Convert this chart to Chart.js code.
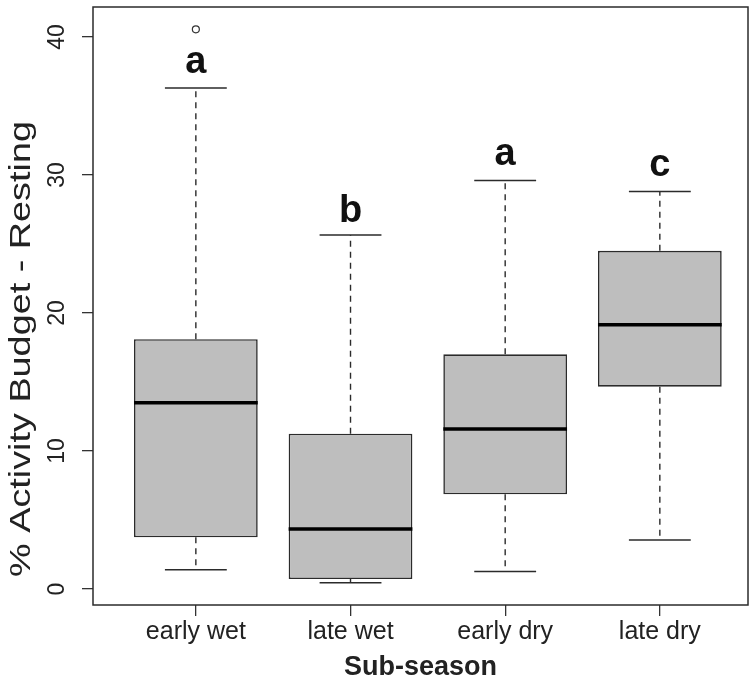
<!DOCTYPE html>
<html>
<head>
<meta charset="utf-8">
<script src="https://cdn.jsdelivr.net/npm/chart.js@4.4.1/dist/chart.umd.min.js"></script>
<style>
    html, body { margin: 0; padding: 0; background: #fff; }
</style>
</head>
<body>
<canvas id="myChart" width="755" height="687"></canvas>
<script>
// box plot summary
const categories = ['early wet', 'late wet', 'early dry', 'late dry'];
const whiskerLow = [1.4, 0.46, 1.26, 3.55];
const quartile1 = [3.75, 0.72, 6.86, 14.66];
const medians = [13.5, 4.35, 11.6, 19.15];
const quartile3 = [18.1, 11.25, 17.0, 24.5];
const whiskerHigh = [36.3, 25.65, 29.6, 28.8];
const outliers = [{ x: 1, y: 40.55 }];

// significance letters and the value their baseline sits on
const groupLetters = ['a', 'b', 'a', 'c'];
const letterBaseline = [37.4, 26.6, 30.7, 29.9];

const yTitle = '% Activity Budget - Resting';

const FONT = "'Liberation Sans', Arial, sans-serif";
const INK = '#2b2b2b';

const boxPlotLines = {
    id: 'boxPlotLines',
    beforeDatasetsDraw(chart) {
        const ctx = chart.ctx;
        const x = chart.scales.x, y = chart.scales.y;
        ctx.save();
        ctx.strokeStyle = INK;
        ctx.lineWidth = 1.4;
        ctx.setLineDash([6, 5]);
        for (let i = 0; i < categories.length; i++) {
            let px = x.getPixelForValue(i + 1);
            ctx.beginPath();
            ctx.moveTo(px, y.getPixelForValue(quartile3[i]));
            ctx.lineTo(px, y.getPixelForValue(whiskerHigh[i]));
            ctx.moveTo(px, y.getPixelForValue(quartile1[i]));
            ctx.lineTo(px, y.getPixelForValue(whiskerLow[i]));
            ctx.stroke();
        }
        ctx.restore();
    },
    afterDatasetsDraw(chart) {
        const ctx = chart.ctx;
        const x = chart.scales.x, y = chart.scales.y;
        const area = chart.chartArea;
        ctx.save();
        ctx.strokeStyle = INK;
        for (let i = 0; i < categories.length; i++) {
            let v = i + 1;
            // whisker caps, half the box width
            ctx.lineWidth = 1.5;
            ctx.beginPath();
            [whiskerLow[i], whiskerHigh[i]].forEach(val => {
                let py = y.getPixelForValue(val);
                ctx.moveTo(x.getPixelForValue(v - 0.2), py);
                ctx.lineTo(x.getPixelForValue(v + 0.2), py);
            });
            ctx.stroke();

            // median
            ctx.strokeStyle = '#000';
            ctx.lineWidth = 3.5;
            ctx.beginPath();
            let my = y.getPixelForValue(medians[i]);
            ctx.moveTo(x.getPixelForValue(v - 0.4), my);
            ctx.lineTo(x.getPixelForValue(v + 0.4), my);
            ctx.stroke();
            ctx.strokeStyle = INK;

            // letter
            ctx.fillStyle = '#111';
            ctx.font = 'bold 38px ' + FONT;
            ctx.textAlign = 'center';
            ctx.textBaseline = 'alphabetic';
            ctx.fillText(groupLetters[i], x.getPixelForValue(v), y.getPixelForValue(letterBaseline[i]));
        }
        // box round the plot region
        ctx.lineWidth = 1.5;
        ctx.strokeRect(area.left, area.top, area.right - area.left, area.bottom - area.top);

        // y title: the original is drawn a bit stretched along its length
        ctx.fillStyle = '#222';
        ctx.font = '30px ' + FONT;
        ctx.textAlign = 'center';
        ctx.textBaseline = 'middle';
        ctx.translate(22, 349);
        ctx.rotate(-Math.PI / 2);
        ctx.scale(1.26, 1);
        ctx.fillText(yTitle, 0, 0);
        ctx.restore();
    }
};

let config = {
    type: 'bar',
    data: {
        datasets: [
            {
                type: 'bar',
                data: categories.map((c, i) => ({ x: i + 1, y: [quartile1[i], quartile3[i]] })),
                backgroundColor: '#bebebe',
                borderColor: INK,
                borderWidth: 1.6,
                borderSkipped: false,
                barPercentage: 0.8,
                categoryPercentage: 1
            },
            {
                type: 'scatter',
                data: outliers,
                pointRadius: 3.5,
                pointBackgroundColor: '#fff',
                pointBorderColor: '#333',
                pointBorderWidth: 1.2
            }
        ]
    },
    options: {
        responsive: false,
        animation: false,
        layout: { padding: { top: 7, right: 7, left: 0, bottom: 0 } },
        plugins: {
            legend: { display: false },
            tooltip: { enabled: false }
        },
        scales: {
            x: {
                type: 'linear',
                min: 0.335,
                max: 4.57,
                offset: false,
                grid: { offset: false, drawOnChartArea: false, tickLength: 11, color: '#333', lineWidth: 1.3 },
                border: { display: false },
                ticks: {
                    stepSize: 1,
                    includeBounds: false,
                    autoSkip: false,
                    maxRotation: 0,
                    padding: 1,
                    color: '#222',
                    font: { family: FONT, size: 25 },
                    callback: (v) => categories[v - 1] || ''
                },
                title: {
                    display: true,
                    text: 'Sub-season',
                    color: '#222',
                    font: { family: FONT, size: 27, weight: 'bold' },
                    padding: { top: 0, bottom: 3 }
                },
                afterFit: (scale) => {
                    scale.height = 82;
                    scale.paddingLeft = 0;
                    scale.paddingRight = 0;
                }
            },
            y: {
                min: -1.16,
                max: 42.17,
                grid: { drawOnChartArea: false, tickLength: 11, color: '#333', lineWidth: 1.3 },
                border: { display: false },
                ticks: {
                    stepSize: 10,
                    includeBounds: false,
                    minRotation: 90,
                    maxRotation: 90,
                    crossAlign: 'center',
                    padding: 12,
                    color: '#222',
                    font: { family: FONT, size: 23 }
                },
                title: { display: false },
                afterFit: (scale) => {
                    scale.width = 93;
                    scale.paddingTop = 0;
                    scale.paddingBottom = 0;
                }
            }
        }
    },
    plugins: [boxPlotLines]
};

new Chart(document.getElementById('myChart'), config);
</script>
</body>
</html>
